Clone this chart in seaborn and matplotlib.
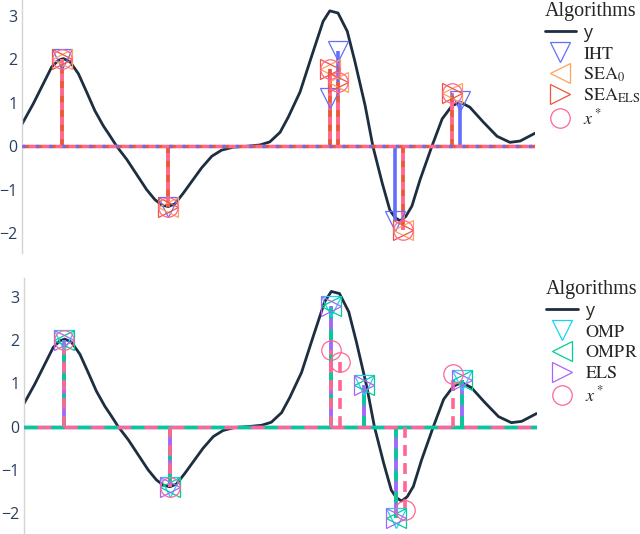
"""희소 신호 복원 비교: 관측 신호 y 와 알고리즘별 추정 계수(stem)를 위·아래 두 패널로."""

import matplotlib
matplotlib.use("Agg")                       # 창 없이 파일 저장 전용
import matplotlib.pyplot as plt
import seaborn as sns

# 관측 신호 y (두 패널 공통, 그림에서 읽은 값)
t_curve = [0, 2.2, 4.15, 5.8, 7.1, 8.05, 9.35, 11.0, 12.6, 14.2, 15.85, 17.15,
           18.45, 20.4, 22.35, 24.3, 25.9, 27.2, 28.5, 29.8, 31.45, 33.1, 35.0,
           37.0, 38.9, 41.2, 43.8, 46.4, 48.3, 50.3, 51.9, 54.2, 56.5, 58.7,
           60.0, 61.6, 63.4, 64.9, 66.9, 68.4, 70.2, 71.7, 72.7, 73.7, 74.8,
           76.0, 77.6, 79.9, 81.9, 83.8, 85.4, 87.3, 89.9, 92.6, 95.1, 97.1, 100]
y_curve = [0.51, 0.98, 1.44, 1.83, 1.98, 2.02, 1.95, 1.67, 1.25, 0.82, 0.47,
           0.24, 0.0, -0.30, -0.65, -1.0, -1.23, -1.35, -1.39, -1.33, -1.08,
           -0.81, -0.50, -0.23, -0.09, -0.02, 0.0, 0.03, 0.10, 0.32, 0.67,
           1.25, 2.09, 2.88, 3.12, 3.07, 2.65, 1.95, 0.93, 0.0, -0.84, -1.47,
           -1.64, -1.72, -1.62, -1.38, -0.77, 0.0, 0.63, 0.93, 1.02, 0.90,
           0.56, 0.23, 0.09, 0.12, 0.30]

# 참값 x*
x_true_pos = [7.8, 28.5, 60.0, 61.6, 74.3, 83.8]
x_true_val = [2.0, -1.4, 1.77, 1.48, -1.92, 1.22]

# 위 패널: IHT, SEA_0, SEA_ELS
iht_pos = [7.8, 28.5, 60.0, 61.6, 72.7, 85.4]
iht_val = [2.0, -1.4, 1.12, 2.2, -1.73, 1.04]
sea0_pos = x_true_pos
sea0_val = x_true_val
seaels_pos = x_true_pos
seaels_val = x_true_val

# 아래 패널: OMP, OMPR, ELS (세 알고리즘 결과 동일)
omp_pos = [7.8, 28.5, 60.0, 66.3, 72.7, 85.4]
omp_val = [2.0, -1.4, 2.78, 0.95, -2.1, 1.08]
ompr_pos = omp_pos
ompr_val = omp_val
els_pos = omp_pos
els_val = omp_val

CURVE = "#1c2e40"
TICK = "#2a3f5f"

sns.set_theme(style="white")
plt.rcParams["font.family"] = ["Open Sans", "DejaVu Sans"]
plt.rcParams["mathtext.fontset"] = "stix"


def draw_panel(ax, series, ylim):
    """series: (라벨, 위치, 값, 색, 마커, 줄기 선스타일, 기준선 선스타일, 줄기 z, 기준선 z)"""
    sns.lineplot(x=t_curve, y=y_curve, ax=ax, color=CURVE, lw=2.0,
                 label="y", zorder=2)
    ax.lines[-1].set_solid_joinstyle("round")
    for label, pos, val, color, marker, stem_ls, base_ls, zs, zb in series:
        ax.axhline(0, color=color, ls=base_ls, lw=2.4, zorder=zb)
        ax.vlines(pos, 0, val, colors=color, linestyles=stem_ls, lw=2.6, zorder=zs)
    for label, pos, val, color, marker, stem_ls, base_ls, zs, zb in series:
        ax.plot(pos, val, ls="none", marker=marker, ms=14, mfc="none",
                mec=color, mew=0.9, label=label, zorder=5)
    ax.set_xlim(0, 100)
    ax.set_ylim(*ylim)
    ax.set_yticks([-2, -1, 0, 1, 2, 3])
    ax.set_xticks([])
    ax.tick_params(axis="y", length=0, pad=3, labelsize=11.5, labelcolor=TICK)
    for side in ("top", "right", "bottom"):
        ax.spines[side].set_visible(False)
    ax.spines["left"].set_color("#d4d4d4")
    ax.spines["left"].set_linewidth(1.0)
    ax.set_facecolor("white")


def add_legend(ax):
    leg = ax.legend(loc="upper left", bbox_to_anchor=(1.015, 1.0), frameon=False,
                    title="Algorithms", alignment="left", fontsize=13,
                    handlelength=1.75, handletextpad=0.4, labelspacing=0.16,
                    borderaxespad=0, borderpad=0.1, numpoints=1)
    leg.get_title().set_fontfamily("Liberation Serif")
    leg.get_title().set_fontsize(14.5)


fig = plt.figure(figsize=(6.4, 5.34), dpi=100)
ax1 = fig.add_axes([22 / 640, (534 - 253) / 534, 513 / 640, 253 / 534])
ax2 = fig.add_axes([23.5 / 640, 0, 513 / 640, 256 / 534])

top_series = [
    (r"$\mathrm{IHT}$", iht_pos, iht_val, "#636EFA", "v", "solid", (0, (1, 3)), 2.9, 3.4),
    (r"$\mathrm{SEA}_0$", sea0_pos, sea0_val, "#FFA15A", "<", "solid", "solid", 3.0, 3.0),
    (r"$\mathrm{SEA}_{\mathrm{ELS}}$", seaels_pos, seaels_val, "#EF553B", ">",
     (0, (2, 2)), (0, (2, 2)), 3.1, 3.1),
    (r"$x^*$", x_true_pos, x_true_val, "#FF6692", "o", (2, (2, 2)), (2, (2, 2)), 3.2, 3.2),
]
bottom_series = [
    (r"$\mathrm{OMP}$", omp_pos, omp_val, "#19D3F3", "v", "solid", "solid", 3.0, 3.0),
    (r"$\mathrm{OMPR}$", ompr_pos, ompr_val, "#00CC96", "<", (0, (3, 3)), (0, (4, 4)), 3.2, 3.2),
    (r"$\mathrm{ELS}$", els_pos, els_val, "#AB63FA", ">", "solid", "solid", 3.1, 3.1),
    (r"$x^*$", x_true_pos, x_true_val, "#FF6692", "o", (0, (3, 2)), (4, (4, 4)), 3.3, 3.3),
]

draw_panel(ax1, top_series, (-2.46, 3.37))
draw_panel(ax2, bottom_series, (-2.48, 3.43))
add_legend(ax1)
add_legend(ax2)

fig.savefig("out.png", dpi=100)
